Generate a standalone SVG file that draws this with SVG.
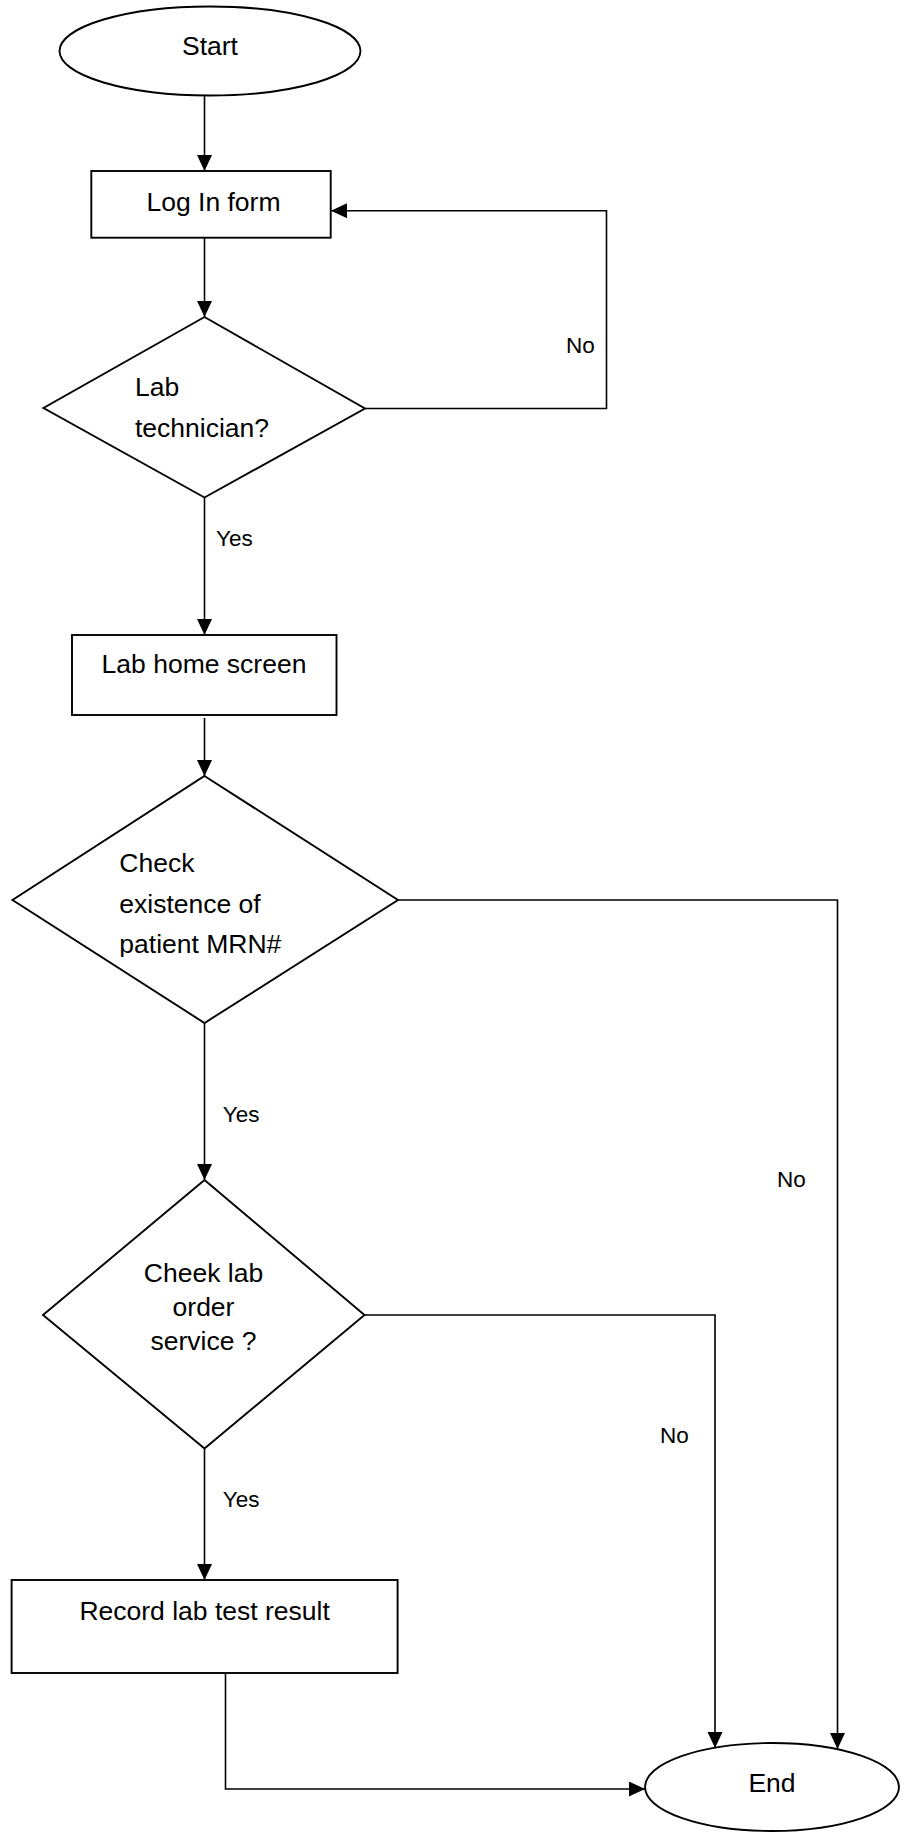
<svg xmlns="http://www.w3.org/2000/svg" width="907" height="1833" viewBox="0 0 907 1833">
  <style>
    .shape { fill: #ffffff; stroke: #000000; stroke-width: 1.9; }
    .conn { fill: none; stroke: #000000; stroke-width: 1.6; }
    .node-text { font-family: "Liberation Sans", Arial, sans-serif; font-size: 26.5px; fill: #000000; }
    .mid { text-anchor: middle; }
    .label { font-family: "Liberation Sans", Arial, sans-serif; font-size: 22.5px; fill: #000000; }
  </style>
  <defs>
    <marker id="arrow" markerUnits="userSpaceOnUse" markerWidth="17" markerHeight="16" refX="16" refY="7.5" orient="auto">
      <path d="M0,0 L16,7.5 L0,15 z" fill="#000000"/>
    </marker>
    <clipPath id="mrn-clip">
      <rect x="0" y="760" width="420" height="197"/>
    </clipPath>
  </defs>
  <rect width="907" height="1833" fill="#ffffff"/>

  <!-- connectors -->
  <g id="connectors">
    <path class="conn" d="M204.5 95 V171" marker-end="url(#arrow)"/>
    <path class="conn" d="M204.5 238 V317" marker-end="url(#arrow)"/>
    <path class="conn" d="M365 408.5 H606.5 V210.7 H331" marker-end="url(#arrow)"/>
    <path class="conn" d="M204.5 497.5 V635" marker-end="url(#arrow)"/>
    <path class="conn" d="M204.5 718 V776" marker-end="url(#arrow)"/>
    <path class="conn" d="M398 900 H837.5 V1749" marker-end="url(#arrow)"/>
    <path class="conn" d="M204.5 1023 V1180" marker-end="url(#arrow)"/>
    <path class="conn" d="M364.5 1315 H715 V1748" marker-end="url(#arrow)"/>
    <path class="conn" d="M204.5 1448.5 V1580" marker-end="url(#arrow)"/>
    <path class="conn" d="M225.5 1673 V1789 H645" marker-end="url(#arrow)"/>
    <text class="label" x="566" y="353.3">No</text>
    <text class="label" x="216" y="545.7">Yes</text>
    <text class="label" x="222.7" y="1121.7">Yes</text>
    <text class="label" x="777" y="1186.7">No</text>
    <text class="label" x="660" y="1443">No</text>
    <text class="label" x="222.7" y="1507.3">Yes</text>
  </g>

  <g id="start">
    <ellipse class="shape" cx="210" cy="51" rx="150.5" ry="44.5"/>
    <text class="node-text mid" x="210" y="55">Start</text>
  </g>

  <g id="login-form">
    <rect class="shape" x="91.3" y="171" width="239.4" height="66.7"/>
    <text class="node-text mid" x="213.5" y="210.7">Log In form</text>
  </g>

  <g id="is-lab-technician">
    <polygon class="shape" points="204.5,317 365,408.5 204.5,497.5 43.5,408"/>
    <text class="node-text" x="135" y="395.7">Lab</text>
    <text class="node-text" x="135" y="436.7">technician?</text>
  </g>

  <g id="lab-home-screen">
    <rect class="shape" x="72" y="635" width="264.5" height="80"/>
    <text class="node-text mid" x="204" y="673">Lab home screen</text>
  </g>

  <g id="check-mrn">
    <polygon class="shape" points="204.5,776 398,900 204.5,1023 12.5,900"/>
    <g clip-path="url(#mrn-clip)">
      <text class="node-text" x="119.3" y="871.7">Check</text>
      <text class="node-text" x="119.3" y="912.7">existence of</text>
      <text class="node-text" x="119.3" y="953.3">patient MRN#</text>
    </g>
  </g>

  <g id="check-lab-order">
    <polygon class="shape" points="204.5,1180 364.5,1315 204.5,1448.5 43,1315"/>
    <text class="node-text mid" x="203.5" y="1281.7">Cheek lab</text>
    <text class="node-text mid" x="203.5" y="1315.7">order</text>
    <text class="node-text mid" x="203.5" y="1350">service ?</text>
  </g>

  <g id="record-result">
    <rect class="shape" x="11.6" y="1580" width="386" height="93"/>
    <text class="node-text mid" x="204.6" y="1620">Record lab test result</text>
  </g>

  <g id="end">
    <ellipse class="shape" cx="772" cy="1787" rx="127" ry="44"/>
    <text class="node-text mid" x="772" y="1791.7">End</text>
  </g>
</svg>
